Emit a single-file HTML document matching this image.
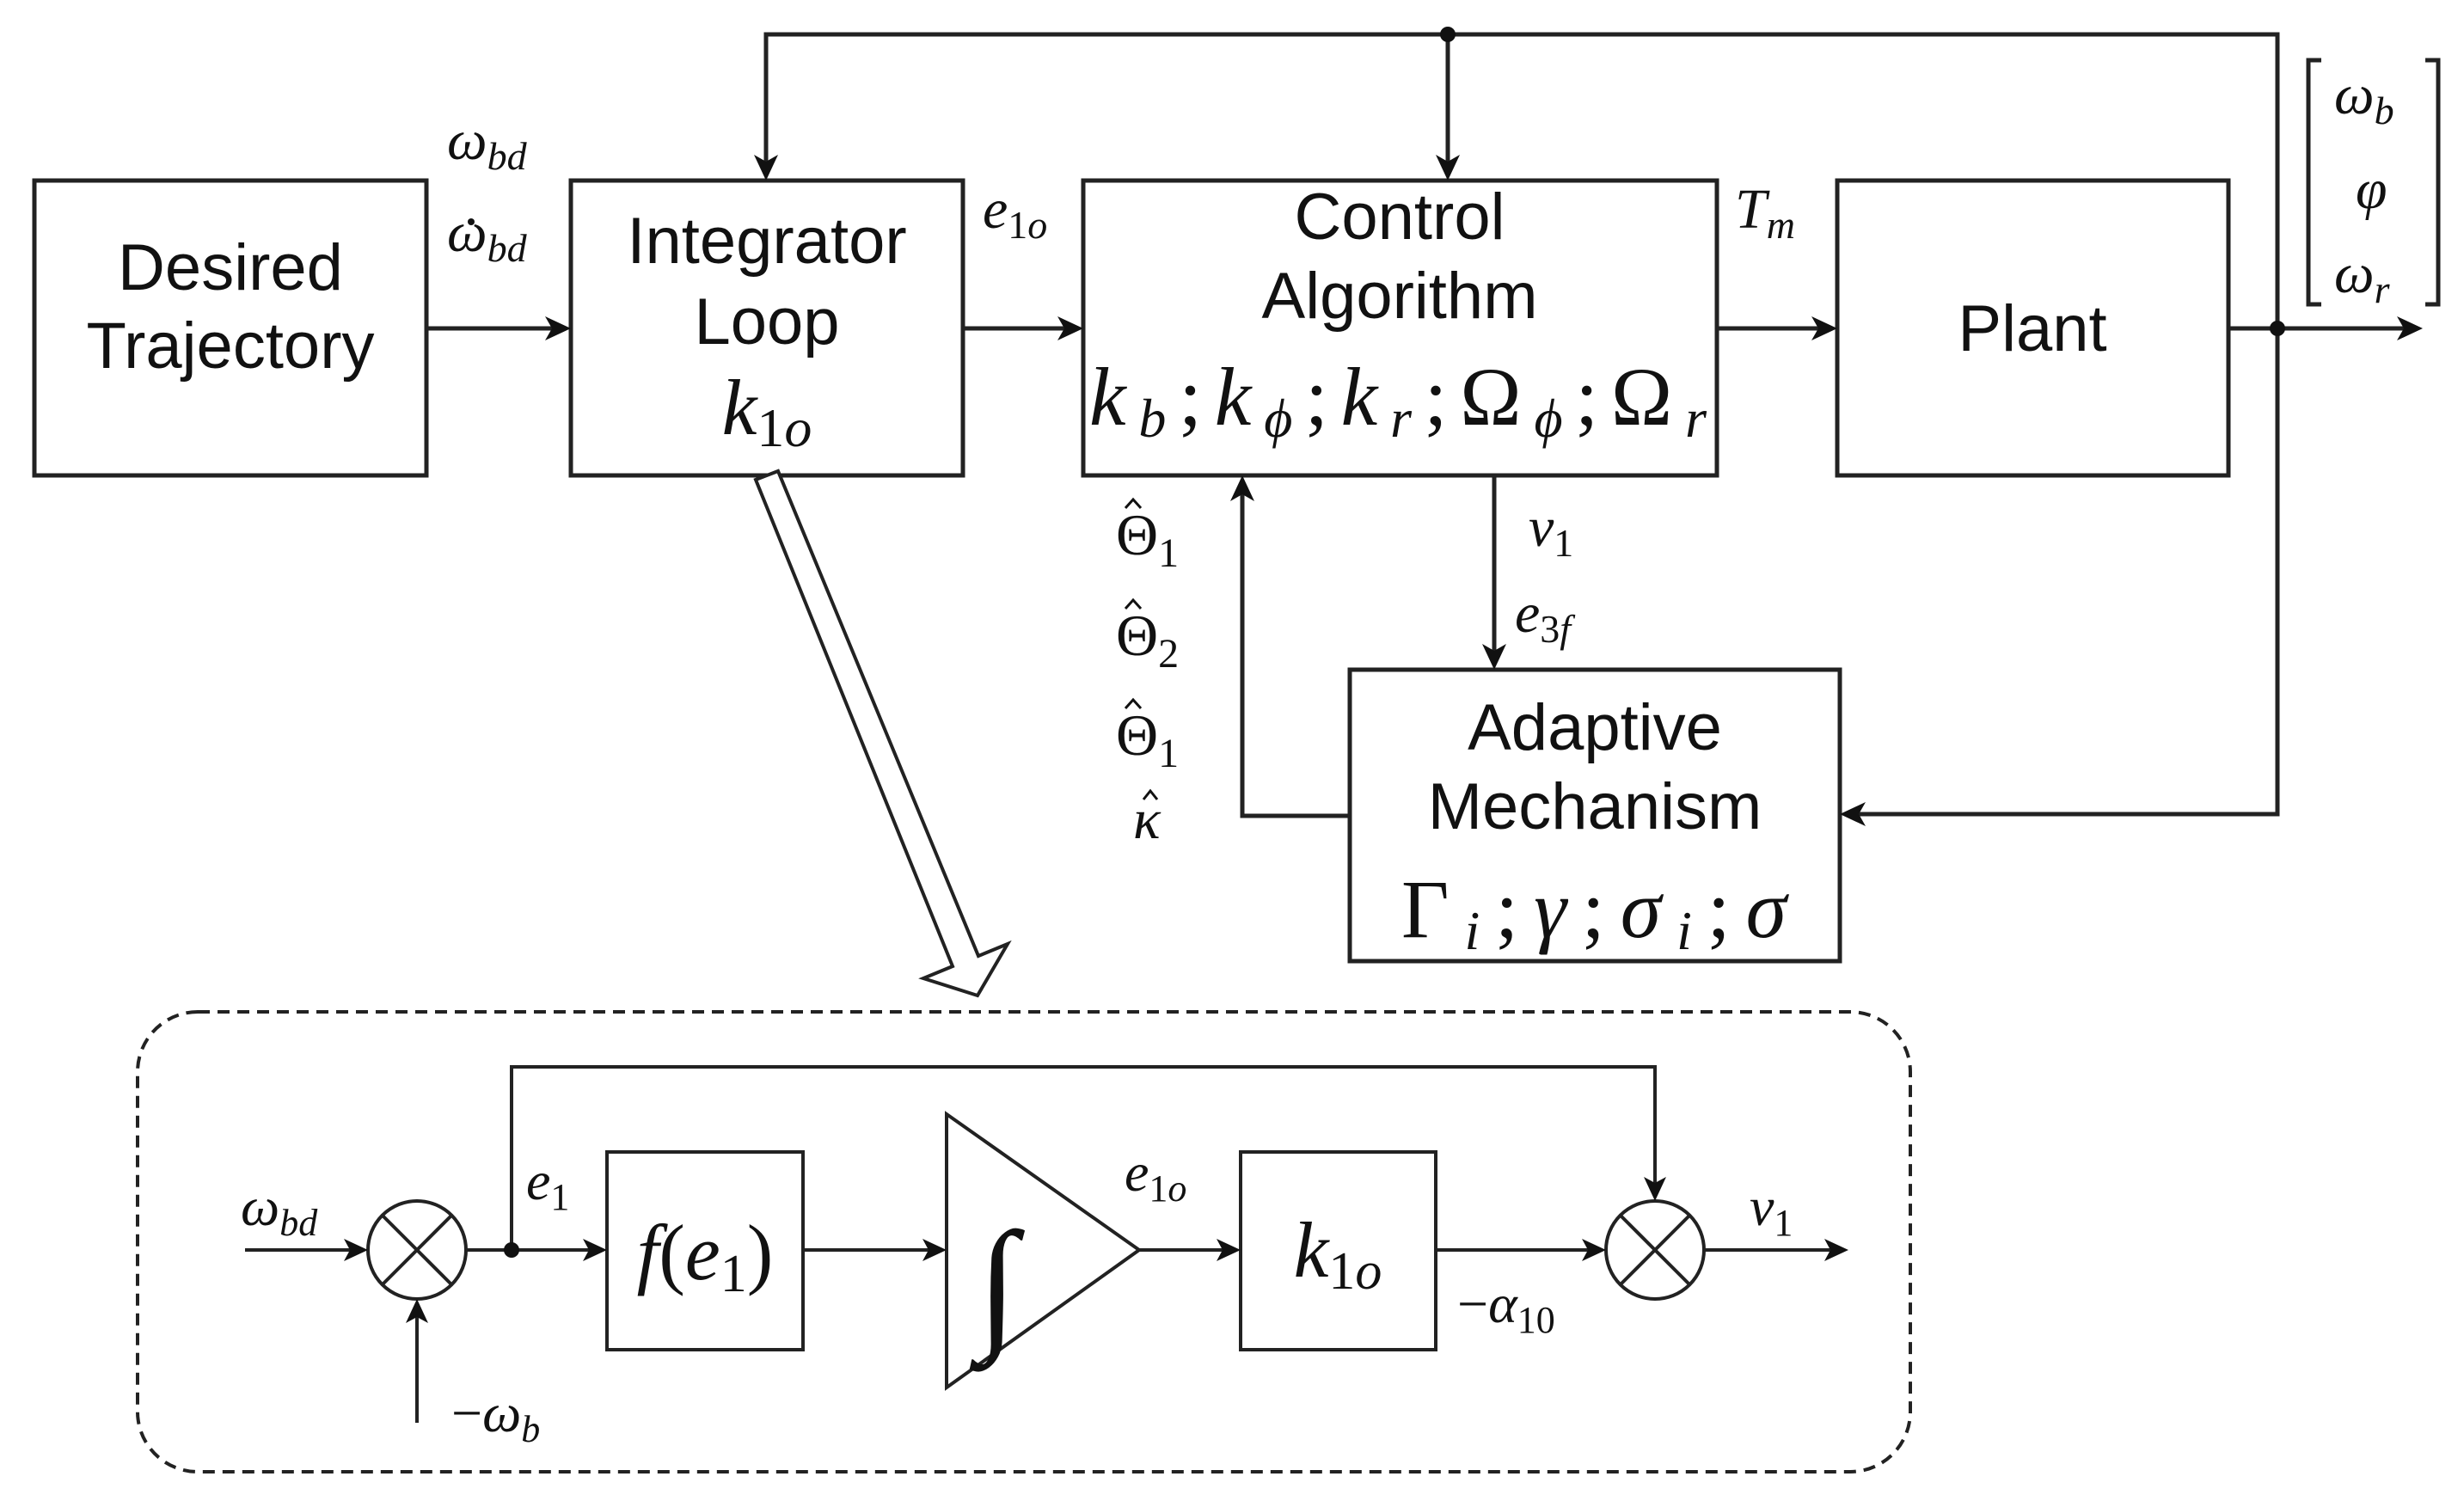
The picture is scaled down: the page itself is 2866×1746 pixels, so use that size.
<!DOCTYPE html>
<html><head><meta charset="utf-8"><style>
html,body{margin:0;padding:0;background:#fff;}
svg{display:block}
.s{font-family:"Liberation Sans",sans-serif;fill:#111}
.m{font-family:"Liberation Serif",serif;font-style:italic;fill:#111}
.r{font-family:"Liberation Serif",serif;fill:#111}
</style></head><body>
<svg width="2866" height="1746" viewBox="0 0 2866 1746" xmlns="http://www.w3.org/2000/svg">
<g fill="none" stroke="#222" stroke-width="5">
<rect x="40" y="210" width="456" height="343"/>
<rect x="664" y="210" width="456" height="343"/>
<rect x="1260" y="210" width="737" height="343"/>
<rect x="2137" y="210" width="455" height="343"/>
<rect x="1570" y="779" width="570" height="339"/>
<line x1="496" y1="382" x2="650" y2="382"/>
<line x1="1120" y1="382" x2="1246" y2="382"/>
<line x1="1997" y1="382" x2="2123" y2="382"/>
<line x1="2592" y1="382" x2="2800" y2="382"/>
<polyline points="2649,382 2649,40 891,40 891,196"/>
<line x1="1684" y1="40" x2="1684" y2="196"/>
<polyline points="2649,382 2649,947 2154,947"/>
<line x1="1738" y1="553" x2="1738" y2="765"/>
<polyline points="1570,949 1445,949 1445,567"/>
</g>
<g fill="#111">
<polygon points="664,382 634,368 642,382 634,396"/>
<polygon points="1260,382 1230,368 1238,382 1230,396"/>
<polygon points="2137,382 2107,368 2115,382 2107,396"/>
<polygon points="2818,382 2788,368 2796,382 2788,396"/>
<polygon points="891,210 877,180 891,188 905,180"/>
<polygon points="1684,210 1670,180 1684,188 1698,180"/>
<polygon points="1738,779 1724,749 1738,757 1752,749"/>
<polygon points="2140,947 2170,933 2162,947 2170,961"/>
<polygon points="1445,553 1431,583 1445,575 1459,583"/>
<circle cx="1684" cy="40" r="9"/>
<circle cx="2649" cy="382" r="9"/>
</g>
<g fill="none" stroke="#222" stroke-width="5">
<polyline points="2700,70 2685,70 2685,354 2700,354"/>
<polyline points="2821,70 2836,70 2836,354 2821,354"/>
</g>
<g class="s" font-size="76" text-anchor="middle">
<text x="268" y="337">Desired</text>
<text x="268" y="428">Trajectory</text>
<text x="892" y="306">Integrator</text>
<text x="892" y="400">Loop</text>
<text x="1628" y="278">Control</text>
<text x="1628" y="370">Algorithm</text>
<text x="2364" y="408">Plant</text>
<text x="1855" y="872">Adaptive</text>
<text x="1855" y="964">Mechanism</text>
</g>
<text class="m" x="892" y="505" font-size="92" text-anchor="middle">k<tspan font-size="64" font-style="normal" dy="14">1</tspan><tspan font-size="64" dy="0">o</tspan></text>
<text class="m" x="1267" y="494" font-size="96" textLength="718" lengthAdjust="spacing">k<tspan font-size="64" dy="14">b</tspan><tspan font-style="normal" dy="-14">;</tspan>k<tspan font-size="64" dy="14">ϕ</tspan><tspan font-style="normal" dy="-14">;</tspan>k<tspan font-size="64" dy="14">r</tspan><tspan font-style="normal" dy="-14">;Ω</tspan><tspan font-size="64" dy="14">ϕ</tspan><tspan font-style="normal" dy="-14">;Ω</tspan><tspan font-size="64" dy="14">r</tspan></text>
<text class="m" x="1630" y="1090" font-size="96" textLength="448" lengthAdjust="spacing"><tspan font-style="normal">Γ</tspan><tspan font-size="64" dy="14">i</tspan><tspan font-style="normal" dy="-14">;</tspan>γ<tspan font-style="normal">;</tspan>σ<tspan font-size="64" dy="14">i</tspan><tspan font-style="normal" dy="-14">;</tspan>σ</text>
<g class="m" font-size="66">
<text x="520" y="185">ω<tspan font-size="46" dy="12">bd</tspan></text>
<text x="520" y="292">ω<tspan font-size="46" dy="12">bd</tspan></text>
<text x="1143" y="265">e<tspan font-size="46" font-style="normal" dy="12">1</tspan><tspan font-size="46" dy="0">o</tspan></text>
<text x="2018" y="265">T<tspan font-size="46" dy="12">m</tspan></text>
<text x="2715" y="132">ω<tspan font-size="46" dy="12">b</tspan></text>
<text x="2740" y="242">φ</text>
<text x="2715" y="340">ω<tspan font-size="46" dy="12">r</tspan></text>
<text x="1778" y="635">v<tspan font-size="46" font-style="normal" dy="12">1</tspan></text>
<text x="1762" y="735">e<tspan font-size="46" font-style="normal" dy="12">3</tspan><tspan font-size="46" dy="0">f</tspan></text>
<text x="1318" y="975">κ</text>
</g>
<circle cx="548" cy="258" r="4" fill="#111"/>
<g class="r" font-size="68">
<text x="1298" y="645">Θ<tspan font-size="48" dy="14">1</tspan></text>
<text x="1298" y="762">Θ<tspan font-size="48" dy="14">2</tspan></text>
<text x="1298" y="878">Θ<tspan font-size="48" dy="14">1</tspan></text>
</g>
<g fill="none" stroke="#111" stroke-width="3">
<polyline points="1309,591 1318,581 1327,591"/>
<polyline points="1309,708 1318,698 1327,708"/>
<polyline points="1309,824 1318,814 1327,824"/>
<polyline points="1330,930 1338,920 1346,930"/>
</g>
<polygon points="879,558 905,548 1138,1112 1172,1098 1137,1158 1074,1138 1108,1124" fill="#fff" stroke="#222" stroke-width="4"/>
<rect x="160" y="1177" width="2062" height="535" rx="70" fill="none" stroke="#222" stroke-width="4" stroke-dasharray="14,9"/>
<g fill="none" stroke="#222" stroke-width="4">
<line x1="285" y1="1454" x2="414" y2="1454"/>
<circle cx="485" cy="1454" r="57"/>
<line x1="445" y1="1414" x2="525" y2="1494"/>
<line x1="525" y1="1414" x2="445" y2="1494"/>
<line x1="485" y1="1655" x2="485" y2="1525"/>
<line x1="542" y1="1454" x2="692" y2="1454"/>
<polyline points="595,1454 595,1241 1925,1241 1925,1383"/>
<rect x="706" y="1340" width="228" height="230"/>
<line x1="934" y1="1454" x2="1087" y2="1454"/>
<polygon points="1101,1296 1325,1454 1101,1614"/>
<line x1="1325" y1="1454" x2="1429" y2="1454"/>
<rect x="1443" y="1340" width="227" height="230"/>
<line x1="1670" y1="1454" x2="1854" y2="1454"/>
<circle cx="1925" cy="1454" r="57"/>
<line x1="1885" y1="1414" x2="1965" y2="1494"/>
<line x1="1965" y1="1414" x2="1885" y2="1494"/>
<line x1="1982" y1="1454" x2="2134" y2="1454"/>
</g>
<g fill="#111">
<polygon points="428,1454 400,1441 407,1454 400,1467"/>
<polygon points="485,1511 472,1539 485,1532 498,1539"/>
<polygon points="706,1454 678,1441 685,1454 678,1467"/>
<polygon points="1101,1454 1073,1441 1080,1454 1073,1467"/>
<polygon points="1443,1454 1415,1441 1422,1454 1415,1467"/>
<polygon points="1868,1454 1840,1441 1847,1454 1840,1467"/>
<polygon points="1925,1397 1912,1369 1925,1376 1938,1369"/>
<polygon points="2150,1454 2122,1441 2129,1454 2122,1467"/>
<circle cx="595" cy="1454" r="9"/>
</g>
<g class="m" font-size="64">
<text x="280" y="1425">ω<tspan font-size="44" dy="12">bd</tspan></text>
<text x="525" y="1665"><tspan font-style="normal">−</tspan>ω<tspan font-size="44" dy="12">b</tspan></text>
<text x="612" y="1395">e<tspan font-size="44" font-style="normal" dy="12">1</tspan></text>
<text x="1308" y="1385">e<tspan font-size="44" font-style="normal" dy="12">1</tspan><tspan font-size="44" dy="0">o</tspan></text>
<text x="1695" y="1538"><tspan font-style="normal">−</tspan>α<tspan font-size="44" font-style="normal" dy="12">10</tspan></text>
<text x="2035" y="1425">v<tspan font-size="44" font-style="normal" dy="12">1</tspan></text>
</g>
<text class="m" x="820" y="1488" font-size="92" text-anchor="middle">f<tspan font-style="normal">(</tspan>e<tspan font-size="62" font-style="normal" dy="14">1</tspan><tspan font-style="normal" dy="-14">)</tspan></text>
<text class="m" x="1556" y="1485" font-size="92" text-anchor="middle">k<tspan font-size="62" font-style="normal" dy="14">1</tspan><tspan font-size="62" dy="0">o</tspan></text>
<text class="r" x="1160" y="1550" font-size="170" text-anchor="middle">∫</text>
</svg>
</body></html>
